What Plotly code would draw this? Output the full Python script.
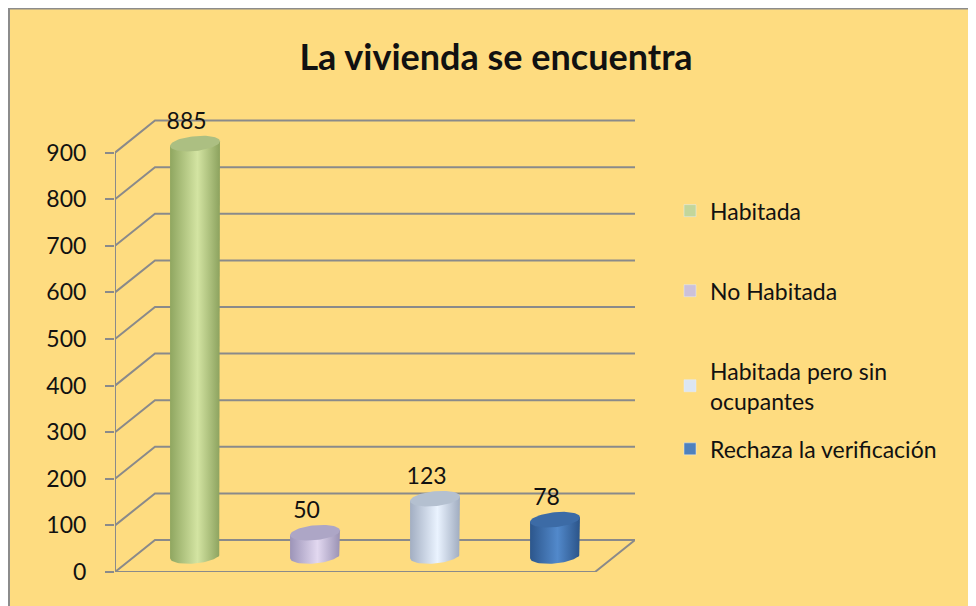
import numpy as np
import plotly.graph_objects as go

# ---- data ----
title_text = "La vivienda se encuentra"
categories = ["Habitada", "No Habitada", "Habitada pero sin<br>ocupantes", "Rechaza la verificación"]
values = [885, 50, 123, 78]
tick_values = [0, 100, 200, 300, 400, 500, 600, 700, 800, 900]

# ---- styles ----
legend_colors = ["#C3D69B", "#CCC1DA", "#DCE6F2", "#4F81BD"]
body_scales = [
    [[0, "#8FA660"], [0.55, "#D3E4A2"], [1, "#8CA25E"]],
    [[0, "#9C94B8"], [0.55, "#E2D8F0"], [1, "#9A92B4"]],
    [[0, "#A2AEC2"], [0.55, "#EAF3FF"], [1, "#A0ACC0"]],
    [[0, "#2C568C"], [0.55, "#5289CB"], [1, "#2B5489"]],
]
top_colors = ["#ACBF82", "#ADA6C6", "#B4C0D0", "#3C6BA6"]
grid_color = "#8A8A8A"
bg = "#FEDC80"

DX = 1 / 3       # depth shift (x data units) front -> back
DY = 68.7        # depth shift (y data units) front -> back
W = 0.208        # cylinder half width
EH = 16          # ellipse half height (y units)
TILT = 5

OFF = 8  # page body margin
FW, FH = 976, 606

fig = go.Figure()

# 3D grid / walls
ymax_tick = tick_values[-1]
gx, gy = [], []
for v in tick_values:
    gx += [-0.5, -0.5 + DX, 3.5 + DX, None]
    gy += [v, v + DY, v + DY, None]
gx += [-0.5, 3.5, 3.5 + DX, None, -0.5, -0.5]
gy += [0, 0, DY, None, 0, ymax_tick]
fig.add_trace(go.Scatter(x=gx, y=gy, mode="lines", line=dict(color=grid_color, width=2),
                         hoverinfo="skip", showlegend=False))

t = np.linspace(0, np.pi, 40)
tf = np.linspace(0, 2 * np.pi, 80)
for i, v in enumerate(values):
    c = i + DX / 2
    base = DY / 2
    top = v + DY / 2
    bx = [c - W, c - W, c + W, c + W] + list(c + W * np.cos(t))
    by = [base - TILT, top - TILT, top + TILT, base + TILT] + list(base - EH * np.sin(t) + TILT * np.cos(t))
    fig.add_trace(go.Scatter(x=bx, y=by, fill="toself", mode="lines", line=dict(width=0),
                             fillgradient=dict(type="horizontal", colorscale=body_scales[i]),
                             hoverinfo="skip", showlegend=False))
    ex = list(c + W * np.cos(tf))
    ey = list(top + EH * np.sin(tf) + TILT * np.cos(tf))
    fig.add_trace(go.Scatter(x=ex, y=ey, fill="toself", mode="lines", line=dict(width=0),
                             fillcolor=top_colors[i], hoverinfo="skip", showlegend=False))

# data labels
fig.add_trace(go.Scatter(x=[i + DX / 2 - 0.07 for i in range(len(values))],
                         y=[v + DY / 2 + 44 for v in values],
                         text=[str(v) for v in values], mode="text",
                         textfont=dict(family="Lato", size=23, color="#111111"),
                         hoverinfo="skip", showlegend=False, cliponaxis=False))

# legend entries (one legend per entry for exact placement)
legend_py = [211, 291, 386, 449]
legend_names = ["legend", "legend2", "legend3", "legend4"]
for i, name in enumerate(categories):
    fig.add_trace(go.Bar(x=[None], y=[None], name=name, marker=dict(color=legend_colors[i]),
                         legend=legend_names[i], showlegend=True))

# plot area in screen pixels -> figure pixels
PL, PR, PT, PB = 115 - OFF, 635 - OFF, 106.4 - OFF, 572 - OFF
def px2paper_x(px):
    return (px - OFF - PL) / (PR - PL)
def px2paper_y(py):
    return (PB - (py - OFF)) / (PB - PT)

layout_legends = {}
for i, ln in enumerate(legend_names):
    layout_legends[ln] = dict(x=px2paper_x(670), y=px2paper_y(legend_py[i]), xanchor="left", yanchor="middle",
                              bgcolor="rgba(0,0,0,0)", font=dict(family="Lato", size=23, color="#111111"))

fig.update_layout(
    width=FW, height=FH, autosize=False,
    margin=dict(l=PL, r=FW - PR, t=PT, b=FH - PB, pad=0),
    paper_bgcolor=bg, plot_bgcolor="rgba(0,0,0,0)",
    title=dict(text="<b>" + title_text + "</b>", x=(496 - OFF) / FW, xref="container", xanchor="center",
               y=1 - (57 - OFF) / FH, yref="container", yanchor="middle",
               font=dict(family="Lato", size=36, color="#111111")),
    xaxis=dict(range=[-0.5, 3.5 + DX], visible=False, fixedrange=True),
    yaxis=dict(range=[0, 1000], tickvals=tick_values, showgrid=False, zeroline=False, showline=False,
               ticks="outside", ticklen=9, tickwidth=2, tickcolor=grid_color, ticklabelstandoff=14,
               tickfont=dict(family="Lato", size=23, color="#111111"), fixedrange=True),
    shapes=[dict(type="rect", xref="paper", yref="paper", layer="below",
                 x0=px2paper_x(9), x1=px2paper_x(1000), y0=px2paper_y(640), y1=px2paper_y(9),
                 fillcolor=bg, line=dict(color="#8C8C8C", width=2))],
    **layout_legends,
)

fig.write_html("out.html")
